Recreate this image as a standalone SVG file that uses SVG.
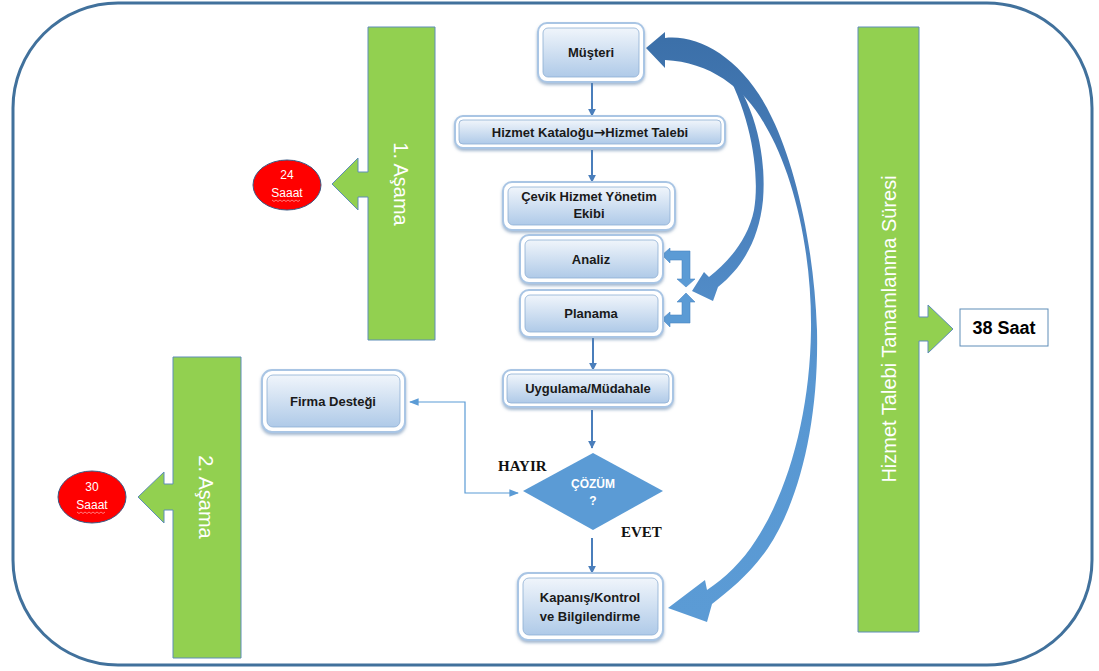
<svg xmlns="http://www.w3.org/2000/svg" width="1099" height="671" viewBox="0 0 1099 671">
<defs>
  <linearGradient id="boxgrad" x1="0" y1="0" x2="0" y2="1">
    <stop offset="0" stop-color="#F0F5FB"/>
    <stop offset="1" stop-color="#AFCAE8"/>
  </linearGradient>
  <linearGradient id="curvegrad" gradientUnits="userSpaceOnUse" x1="0" y1="30" x2="0" y2="620">
    <stop offset="0" stop-color="#3B6FA8"/>
    <stop offset="0.3" stop-color="#4A80BC"/>
    <stop offset="0.6" stop-color="#5897D2"/>
    <stop offset="1" stop-color="#5B9BD5"/>
  </linearGradient>
  <filter id="shadow" x="-20%" y="-30%" width="140%" height="170%">
    <feGaussianBlur in="SourceAlpha" stdDeviation="1.5"/>
    <feOffset dx="0" dy="1.5" result="b"/>
    <feFlood flood-color="#5A7FA8" flood-opacity="0.55"/>
    <feComposite in2="b" operator="in"/>
    <feMerge><feMergeNode/><feMergeNode in="SourceGraphic"/></feMerge>
  </filter>
  <marker id="ah" viewBox="0 0 10 10" refX="9" refY="5" markerWidth="4" markerHeight="4" orient="auto-start-reverse">
    <path d="M0,0 L10,5 L0,10 z" fill="#4A7EBB"/>
  </marker>
  <marker id="ahs" viewBox="0 0 10 10" refX="9" refY="5" markerWidth="8" markerHeight="8" orient="auto-start-reverse">
    <path d="M0,1 L10,5 L0,9 z" fill="#5B9BD5"/>
  </marker>
  <style>
    .frame { fill:#FFFFFF; stroke:#A9C5E4; stroke-width:2; filter:url(#shadow); }
    .inner { fill:url(#boxgrad); stroke:#8EAED3; stroke-width:0.8; }
    .lbl { font-family:"Liberation Sans", Arial, sans-serif; font-weight:bold; font-size:13px; fill:#1A1A1A; text-anchor:middle; }
    .bar { fill:#92D050; stroke:#5E8DB8; stroke-width:1; }
    .bartxt { font-family:"Liberation Sans", Arial, sans-serif; font-size:20px; fill:#FFFFFF; text-anchor:middle; dominant-baseline:central; }
    .oval { fill:#FF0000; stroke:#3A5A85; stroke-width:1; }
    .ovtxt { font-family:"Liberation Sans", Arial, sans-serif; font-size:12px; fill:#FFFFFF; text-anchor:middle; }
    .conn { stroke:#4A7EBB; stroke-width:2; fill:none; marker-end:url(#ah); }
    .thin { stroke:#5B9BD5; stroke-width:1.2; fill:none; }
    .serif { font-family:"Liberation Serif", "Times New Roman", serif; font-weight:bold; font-size:15px; fill:#111111; }
    .curve { fill:url(#curvegrad); }
    .bracket { fill:#5B9BD5; stroke:#4A86C5; stroke-width:0.6; }
  </style>
</defs>

<rect id="outer" x="13" y="3" width="1079" height="662" rx="105" ry="105" fill="#FFFFFF" stroke="#41719C" stroke-width="3"/>

<g id="phase1">
  <polygon class="bar" points="368,27 435,27 435,340 368,340 368,197 358,197 358,210 332,184 358,158 358,172 368,172"/>
  <text class="bartxt" transform="translate(401,184) rotate(90)">1. Aşama</text>
</g>
<g id="oval24">
  <ellipse class="oval" cx="287" cy="185" rx="34" ry="25"/>
  <text class="ovtxt" x="287" y="179">24</text>
  <text class="ovtxt" x="287" y="197">Saaat</text>
  <path d="M272,200 l2,1.5 l2,-1.5 l2,1.5 l2,-1.5 l2,1.5 l2,-1.5 l2,1.5 l2,-1.5 l2,1.5 l2,-1.5 l2,1.5 l2,-1.5 l2,1.5 l2,-1.5" fill="none" stroke="#FFB3B3" stroke-width="0.7"/>
</g>

<g id="phase2">
  <polygon class="bar" points="173,357 241,357 241,658 173,658 173,510 164,510 164,523 138,497 164,472 164,484 173,484"/>
  <text class="bartxt" transform="translate(206,497) rotate(90)">2. Aşama</text>
</g>
<g id="oval30">
  <ellipse class="oval" cx="92" cy="497" rx="34" ry="26"/>
  <text class="ovtxt" x="92" y="491">30</text>
  <text class="ovtxt" x="92" y="509">Saaat</text>
  <path d="M77,512 l2,1.5 l2,-1.5 l2,1.5 l2,-1.5 l2,1.5 l2,-1.5 l2,1.5 l2,-1.5 l2,1.5 l2,-1.5 l2,1.5 l2,-1.5 l2,1.5 l2,-1.5" fill="none" stroke="#FFB3B3" stroke-width="0.7"/>
</g>

<g id="total">
  <polygon class="bar" points="858,27 919,27 919,317 928,317 928,305 953,329 928,353 928,341 919,341 919,632 858,632"/>
  <text class="bartxt" transform="translate(889,329) rotate(-90)">Hizmet Talebi Tamamlanma Süresi</text>
</g>
<g id="saat38">
  <rect x="960" y="309" width="88" height="37" fill="#FFFFFF" stroke="#5E8DB8" stroke-width="1"/>
  <text x="1004" y="334" font-family="Liberation Sans, Arial, sans-serif" font-weight="bold" font-size="18" text-anchor="middle" fill="#000000">38 Saat</text>
</g>

<g id="connectors">
  <line class="conn" x1="592" y1="83" x2="592" y2="116"/>
  <line class="conn" x1="592" y1="150" x2="592" y2="182"/>
  <line class="conn" x1="593" y1="338" x2="593" y2="370"/>
  <line class="conn" x1="592" y1="410" x2="592" y2="448"/>
  <line class="conn" x1="592" y1="538" x2="592" y2="573"/>
  <path class="thin" d="M518,493 L465,493 L465,402 L410,402" marker-start="url(#ahs)" marker-end="url(#ahs)"/>
  <path class="curve" d="M665,38 C700,34 745,60 772,118 C795,165 814,245 817,330 C819,420 800,500 768,548 C750,574 730,590 712,604 L707,622 L668,608 L705,580 L707,590 C725,578 742,562 756,540 C790,488 810,410 811,330 C812,250 793,172 765,125 C745,88 710,62 665,60 L665,68 L646,48 L665,32 Z"/>
  <path class="curve" d="M722,64 C752,95 767,150 763,200 C759,240 742,268 718,287 L713,301 L692,291 L704,272 L709,277 C728,262 748,240 754,210 C760,175 752,115 722,64 Z"/>
  <polygon class="bracket" points="662,255 670,248 670,251 690,251 690,279 695,279 686,287 677,279 682,279 682,260 670,260 670,263"/>
  <polygon class="bracket" points="662,319 670,312 670,315 682,315 682,302 677,302 686,293 695,302 690,302 690,323 670,323 670,327"/>
</g>

<g id="musteri">
  <rect class="frame" x="538" y="23" width="106" height="59" rx="9"/>
  <rect class="inner" x="543" y="28" width="96" height="49" rx="5"/>
  <text class="lbl" x="591" y="57">Müşteri</text>
</g>
<g id="katalog">
  <rect class="frame" x="455" y="116" width="270" height="32" rx="8"/>
  <rect class="inner" x="459" y="120" width="262" height="24" rx="4"/>
  <text class="lbl" x="590" y="137">Hizmet Kataloğu<tspan font-family="DejaVu Sans, sans-serif" font-size="14">→</tspan>Hizmet Talebi</text>
</g>
<g id="cevik">
  <rect class="frame" x="503" y="182" width="172" height="48" rx="9"/>
  <rect class="inner" x="508" y="187" width="162" height="38" rx="5"/>
  <text class="lbl" x="589" y="201">Çevik Hizmet Yönetim</text>
  <text class="lbl" x="589" y="218">Ekibi</text>
</g>
<g id="analiz">
  <rect class="frame" x="520" y="235" width="143" height="48" rx="9"/>
  <rect class="inner" x="525" y="240" width="133" height="38" rx="5"/>
  <text class="lbl" x="591" y="264">Analiz</text>
</g>
<g id="planama">
  <rect class="frame" x="520" y="290" width="143" height="47" rx="9"/>
  <rect class="inner" x="525" y="295" width="133" height="37" rx="5"/>
  <text class="lbl" x="591" y="318">Planama</text>
</g>
<g id="uygulama">
  <rect class="frame" x="503" y="370" width="170" height="37" rx="8"/>
  <rect class="inner" x="507" y="374" width="162" height="29" rx="4"/>
  <text class="lbl" x="588" y="393">Uygulama/Müdahale</text>
</g>
<g id="firma">
  <rect class="frame" x="262" y="370" width="143" height="62" rx="10"/>
  <rect class="inner" x="267" y="375" width="133" height="52" rx="6"/>
  <text class="lbl" x="333" y="406">Firma Desteği</text>
</g>
<g id="cozum">
  <polygon points="523,491 593,453 663,491 593,530" fill="#5B9BD5"/>
  <text x="593" y="488" font-family="Liberation Sans, Arial, sans-serif" font-weight="bold" font-size="12" fill="#FFFFFF" text-anchor="middle">ÇÖZÜM</text>
  <text x="593" y="505" font-family="Liberation Sans, Arial, sans-serif" font-weight="bold" font-size="12" fill="#FFFFFF" text-anchor="middle">?</text>
  <text class="serif" x="498" y="471">HAYIR</text>
  <text class="serif" x="621" y="537">EVET</text>
</g>
<g id="kapanis">
  <rect class="frame" x="518" y="573" width="145" height="67" rx="10"/>
  <rect class="inner" x="523" y="578" width="135" height="57" rx="6"/>
  <text class="lbl" x="590" y="602">Kapanış/Kontrol</text>
  <text class="lbl" x="590" y="621">ve Bilgilendirme</text>
</g>
</svg>
